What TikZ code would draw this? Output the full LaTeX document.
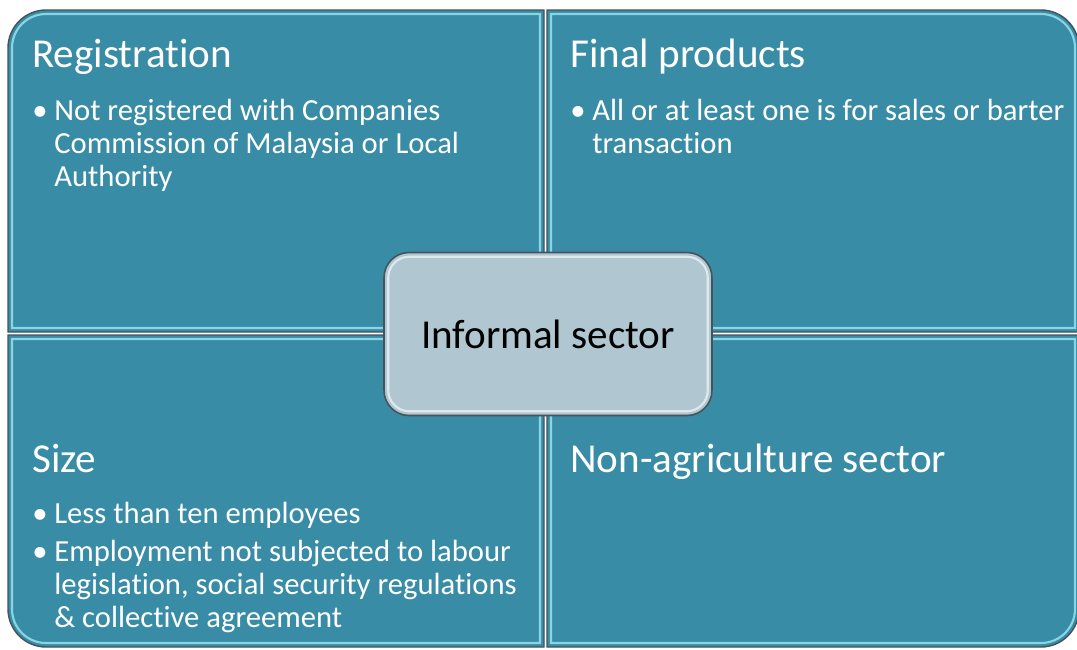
\documentclass[tikz,border=0pt]{standalone}
\usepackage{fontspec}
\setmainfont{Carlito}[Ligatures=NoCommon]

\definecolor{quadteal}{RGB}{57,140,165}
\definecolor{rimline}{RGB}{70,82,92}
\definecolor{rimglow}{RGB}{150,228,238}
\definecolor{corefill}{RGB}{176,199,210}

\newcommand{\headfont}{\fontsize{23.4}{28}\selectfont}
\newcommand{\itemfont}{\fontsize{17.45}{18.8}\selectfont}
% bullet column for the lists
\newcommand{\itembullet}{\makebox[0.44cm][l]{\textbullet}}

\begin{document}
\begin{tikzpicture}[x=0.02cm, y=-0.02cm]

\tikzset{
  quad/.style={fill=quadteal, draw=rimline, line width=0.8pt},
  rim/.style={draw=rimglow, line width=1.2pt, opacity=0.85},
  head/.style={anchor=base west, inner sep=0pt, text=white, font=\headfont},
  point/.style={anchor=base west, inner sep=0pt, text=white, font=\itemfont},
  core/.style={draw=rimline, fill=corefill, rounded corners=0.5cm, line width=0.9pt,
    minimum width=6.56cm, minimum height=3.26cm, font=\headfont},
  glint/.style={draw=white, line width=1.2pt, opacity=0.6, rounded corners=0.42cm}
}

\fill[white] (0,0) rectangle (1077,649);
\useasboundingbox (0,0) rectangle (1077,649);

% --- Quadrants ---

% top left
\draw[quad] (544,332) -- (8,332) -- (8,48) arc[start angle=180, end angle=90, radius=0.76cm] -- (544,10) -- cycle;
\draw[rim] (540,328) -- (12,328) -- (12,48) arc[start angle=180, end angle=90, radius=0.68cm] -- (540,14) -- cycle;

% top right
\draw[quad] (547,332) -- (547,10) -- (1041,10) arc[start angle=90, end angle=0, radius=0.76cm] -- (1079,332) -- cycle;
\draw[rim] (551,328) -- (551,14) -- (1041,14) arc[start angle=90, end angle=0, radius=0.68cm] -- (1075,328) -- cycle;

% bottom left
\draw[quad] (8,335) -- (544,335) -- (544,647) -- (46,647) arc[start angle=270, end angle=180, radius=0.76cm] -- cycle;
\draw[rim] (12,339) -- (540,339) -- (540,643) -- (46,643) arc[start angle=270, end angle=180, radius=0.68cm] -- cycle;

% bottom right
\draw[quad] (547,335) -- (1079,335) -- (1079,609) arc[start angle=0, end angle=-90, radius=0.76cm] -- (547,647) -- cycle;
\draw[rim] (551,339) -- (1075,339) -- (1075,609) arc[start angle=0, end angle=-90, radius=0.68cm] -- (551,643) -- cycle;

% --- Texts ---
\node[head] (regHead) at (32,67) {Registration};
\node[point] (regPt) at (32,120) {\begin{tabular}[t]{@{}l@{}l@{}}
  \itembullet & Not registered with Companies\\
              & Commission of Malaysia or Local\\
              & Authority
\end{tabular}};

\node[head] (prodHead) at (570,67) {Final products};
\node[point] (prodPt) at (570,120) {\begin{tabular}[t]{@{}l@{}l@{}}
  \itembullet & All or at least one is for sales or barter\\
              & transaction
\end{tabular}};

\node[head] (sizeHead) at (32,472) {Size};
\node[point] (sizePtA) at (32,523) {\itembullet Less than ten employees};
\node[point] (sizePtB) at (32,561) {\begin{tabular}[t]{@{}l@{}l@{}}
  \itembullet & Employment not subjected to labour\\
              & legislation, social security regulations\\
              & \& collective agreement
\end{tabular}};

\node[head] (sectHead) at (570,472) {Non-agriculture sector};

% --- Centre ---
\node[core] (core) at (548,334) {Informal sector};
\draw[glint] ([shift={(5,-5)}]core.south west) rectangle ([shift={(-5,5)}]core.north east);

\end{tikzpicture}
\end{document}
